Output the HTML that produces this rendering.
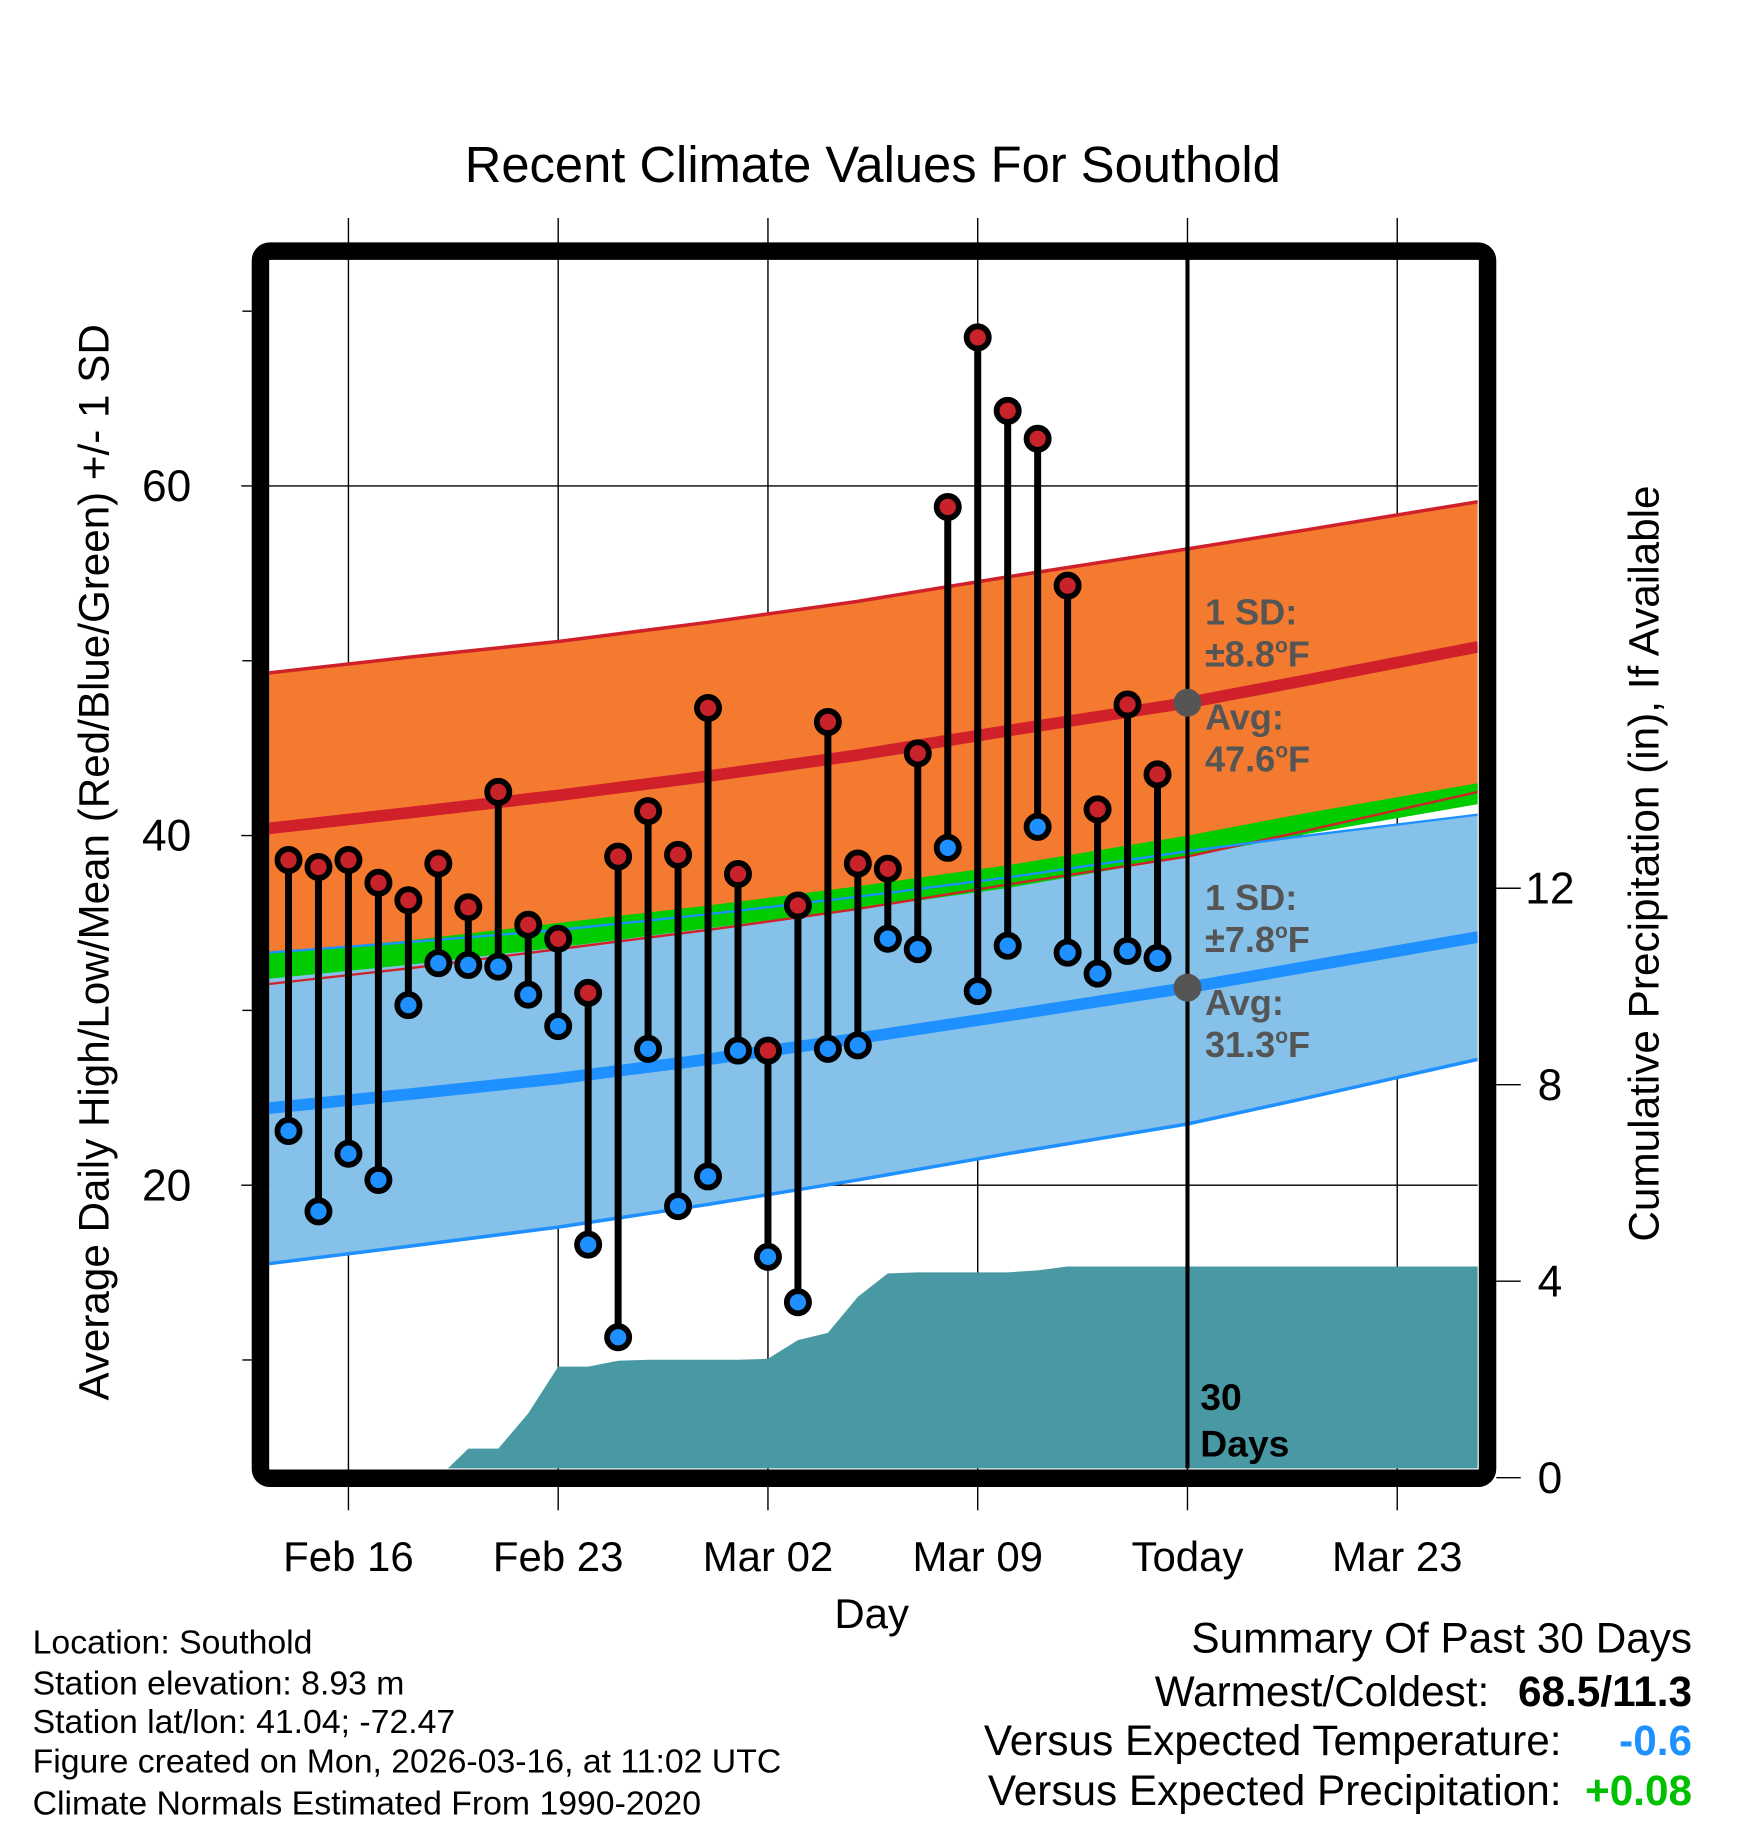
<!DOCTYPE html>
<html><head><meta charset="utf-8"><style>
html,body{margin:0;padding:0;background:#fff;}
svg{display:block;font-family:"Liberation Sans",Arial,sans-serif;}
</style></head><body>
<svg id="chart" width="1748" height="1828" viewBox="0 0 1500 1568.6" xmlns="http://www.w3.org/2000/svg">
<defs><clipPath id="plotclip"><rect x="231" y="222" width="1037" height="1038"/></clipPath></defs>
<text x="749" y="156" font-size="43.5" text-anchor="middle">Recent Climate Values For Southold</text>
<g id="grid"></g>
<g id="plot" clip-path="url(#plotclip)"></g>
<g id="marks"></g>
<rect x="223.5" y="215.5" width="1053" height="1053" rx="8" fill="none" stroke="#000" stroke-width="15"/>
<g id="axes"></g>
<text transform="translate(93,740) rotate(-90)" font-size="36.2" text-anchor="middle">Average Daily High/Low/Mean (Red/Blue/Green) +/- 1 SD</text>
<text transform="translate(1423,741) rotate(-90)" font-size="36.3" text-anchor="middle">Cumulative Precipitation (in), If Available</text>
<text x="748" y="1397" font-size="36" text-anchor="middle">Day</text>
<g font-size="31" font-weight="bold" fill="#555">
<text x="1034" y="536">1 SD:</text><text x="1034" y="572">±8.8<tspan font-size="18" dy="-12">o</tspan><tspan dy="12">F</tspan></text>
<text x="1034" y="626">Avg:</text><text x="1034" y="662">47.6<tspan font-size="18" dy="-12">o</tspan><tspan dy="12">F</tspan></text>
</g>
<g font-size="31" font-weight="bold" fill="#555">
<text x="1034" y="781">1 SD:</text><text x="1034" y="817">±7.8<tspan font-size="18" dy="-12">o</tspan><tspan dy="12">F</tspan></text>
<text x="1034" y="871">Avg:</text><text x="1034" y="907">31.3<tspan font-size="18" dy="-12">o</tspan><tspan dy="12">F</tspan></text>
</g>
<g font-size="32" font-weight="bold"><text x="1030" y="1210">30</text><text x="1030" y="1250">Days</text></g>
<g font-size="29">
<text x="28" y="1419">Location: Southold</text>
<text x="28" y="1454">Station elevation: 8.93 m</text>
<text x="28" y="1487">Station lat/lon: 41.04; -72.47</text>
<text x="28" y="1521">Figure created on Mon, 2026-03-16, at 11:02 UTC</text>
<text x="28" y="1557">Climate Normals Estimated From 1990-2020</text>
</g>
<g font-size="36.3" text-anchor="end">
<text x="1452" y="1418">Summary Of Past 30 Days</text>
<text x="1278" y="1464">Warmest/Coldest:</text><text x="1452" y="1464" font-weight="bold">68.5/11.3</text>
<text x="1340" y="1506">Versus Expected Temperature:</text><text x="1452" y="1506" font-weight="bold" fill="#1e90ff">-0.6</text>
<text x="1340" y="1549">Versus Expected Precipitation:</text><text x="1452" y="1549" font-weight="bold" fill="#00c000">+0.08</text>
</g>
</svg>
<script>
const days=[-2,-1,0,1,2,3,4,5,6,7,8,9,10,11,12,13,14,15,16,17,18,19,20,21,22,23,24,25,26,27];
const highs=[38.6,38.2,38.6,37.3,36.3,38.4,35.9,42.5,34.9,34.1,31.0,38.8,41.4,38.9,47.3,37.8,27.7,36.0,46.5,38.4,38.1,44.7,58.8,68.5,64.3,62.7,54.3,41.5,47.5,43.5];
const lows=[23.1,18.5,21.8,20.3,30.3,32.7,32.6,32.5,30.9,29.1,16.6,11.3,27.8,18.8,20.5,27.7,15.9,13.3,27.8,28.0,34.1,33.5,39.3,31.1,33.7,40.5,33.3,32.1,33.4,33.0];
const precip=[0,0,0,0,0,0,0.59,0.59,1.31,2.26,2.26,2.38,2.40,2.40,2.40,2.40,2.42,2.80,2.95,3.68,4.16,4.18,4.18,4.18,4.18,4.22,4.30,4.30,4.30,4.30];
const normDays=[-2.7,2,7,12,17,22,28,32,37.7];
const normHigh=[40.4,41.3,42.3,43.4,44.6,46.0,47.6,48.9,50.8];
const sdHigh=[8.9,8.9,8.8,8.8,8.8,8.8,8.8,8.6,8.3];
const normLow=[24.4,25.2,26.1,27.2,28.4,29.7,31.3,32.5,34.2];
const sdLow=[8.9,8.7,8.5,8.3,8.1,7.9,7.8,7.5,7.0];
const greenTop=[33.3,34.0,35.0,36.0,37.1,38.3,40.0,41.3,43.0];
const greenBot=[31.8,32.6,33.6,34.7,35.8,37.0,38.8,40.1,41.8];
const xTicks=[0,7,14,21,28,35];
const xLabels=["Feb 16","Feb 23","Mar 02","Mar 09","Today","Mar 23"];
const yTicks=[20,40,60];
const yMinor=[10,30,50,70];
const pTicks=[0,4,8,12];
const todayHigh=47.6, todayLow=31.3, todayDay=28;

const X=d=>299+d*180/7;
const Y=t=>1017-(t-20)*15;
const P=p=>1268-p*42.15;
const NS="http://www.w3.org/2000/svg";
function mk(tag,attrs,parent){const e=document.createElementNS(NS,tag);for(const k in attrs)e.setAttribute(k,attrs[k]);parent.appendChild(e);return e;}
const grid=document.getElementById('grid'),plot=document.getElementById('plot'),marks=document.getElementById('marks'),axes=document.getElementById('axes');

xTicks.forEach((d,i)=>{
  const l=mk('line',{x1:X(d),x2:X(d),y1:187,y2:1296,stroke:'#000','stroke-width':1.2},grid);
  
  
  const t=mk('text',{x:X(d),y:1348,'font-size':36,'text-anchor':'middle'},axes);
  t.textContent=xLabels[i];
  
  
});
yTicks.forEach(v=>{
  const l=mk('line',{x1:207,x2:1268,y1:Y(v),y2:Y(v),stroke:'#000','stroke-width':1.2},grid);
  
  
  const t=mk('text',{x:143,y:Y(v)+13,'font-size':38,'text-anchor':'middle'},axes);
  t.textContent=v;
  
  
});
yMinor.forEach(v=>{
  const l=mk('line',{x1:208,x2:216,y1:Y(v),y2:Y(v),stroke:'#000','stroke-width':1.2},axes);
  
  
});
pTicks.forEach(v=>{
  const l=mk('line',{x1:1284,x2:1305,y1:P(v),y2:P(v),stroke:'#000','stroke-width':1.2},axes);
  
  
  const t=mk('text',{x:1330,y:P(v)+13,'font-size':38,'text-anchor':'middle'},axes);
  t.textContent=v;
  
  
});

function line(arr){return arr.map((v,i)=>X(normDays[i]).toFixed(1)+','+Y(v).toFixed(1)).join(' ');}
function band(top,bot){return line(top)+' '+bot.map((v,i)=>X(normDays[i]).toFixed(1)+','+Y(v).toFixed(1)).reverse().join(' ');}
const hiU=normHigh.map((v,i)=>v+sdHigh[i]),hiL=normHigh.map((v,i)=>v-sdHigh[i]);
const loU=normLow.map((v,i)=>v+sdLow[i]),loL=normLow.map((v,i)=>v-sdLow[i]);
let e;
e=mk('polygon',{points:band(hiU,hiL),fill:'#f47a2f'},plot);


e=mk('polygon',{points:band(loU,loL),fill:'#85c1e8'},plot);


e=mk('polygon',{points:band(greenTop,greenBot),fill:'#00cc00'},plot);


[[hiU,'#d0202a',3,'high-sd-upper-line'],[hiL,'#d0202a',2,'high-sd-lower-line'],[normHigh,'#d0202a',10,'high-normal-line'],[loU,'#1e90ff',2,'low-sd-upper-line'],[loL,'#1e90ff',3,'low-sd-lower-line'],[normLow,'#1e90ff',10,'low-normal-line']].forEach(a=>{
  const l=mk('polyline',{points:line(a[0]),fill:'none',stroke:a[1],'stroke-width':a[2]},plot);
  
  
});
let pts=[];
pts.push(X(days[0]-1)+','+P(0));
days.forEach((d,i)=>pts.push(X(d).toFixed(1)+','+P(precip[i]).toFixed(1)));
pts.push('1270,'+P(precip[precip.length-1]).toFixed(1));
pts.push('1270,1270');pts.push(X(days[0]-1)+',1270');
e=mk('polygon',{points:pts.join(' '),fill:'#4899a3'},plot);


e=mk('line',{x1:X(todayDay),x2:X(todayDay),y1:222,y2:1262,stroke:'#000','stroke-width':3.5},plot);


days.forEach((d,i)=>{
  const s=mk('line',{x1:X(d),x2:X(d),y1:Y(highs[i]),y2:Y(lows[i]),stroke:'#000','stroke-width':6},marks);
  
  
});
days.forEach((d,i)=>{
  const h=mk('circle',{cx:X(d),cy:Y(highs[i]),r:9.5,fill:'#c8232b',stroke:'#000','stroke-width':5},marks);
  
  
  const l=mk('circle',{cx:X(d),cy:Y(lows[i]),r:9.5,fill:'#1e90ff',stroke:'#000','stroke-width':5},marks);
  
  
});
e=mk('circle',{cx:X(todayDay),cy:Y(todayHigh),r:12,fill:'#555'},marks);


e=mk('circle',{cx:X(todayDay),cy:Y(todayLow),r:12,fill:'#555'},marks);


</script>
</body></html>
